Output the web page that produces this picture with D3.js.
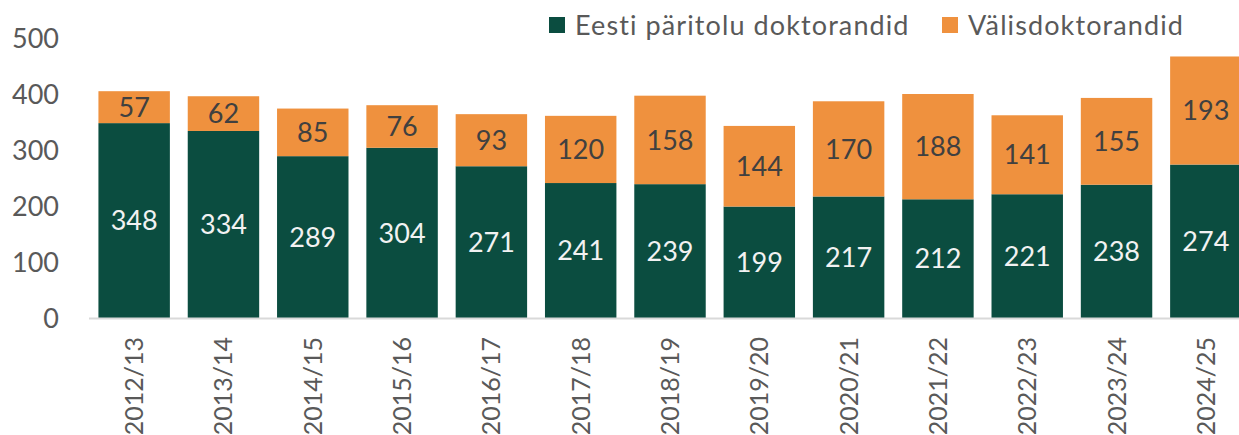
<!DOCTYPE html>
<html lang="et">
  <head>
    <meta charset="utf-8">
    <title>Doktorandid</title>
    <script src="https://cdnjs.cloudflare.com/ajax/libs/d3/7.8.0/d3.min.js"></script>
    <style>
      body { margin: 0; background: #fff; }
      text { font-family: Lato, "Open Sans", sans-serif; font-variant-ligatures: none; }
    </style>
  </head>
  <body>
    <div id="chart"></div>
    <script>
      // data
      var years = ["2012/13", "2013/14", "2014/15", "2015/16", "2016/17", "2017/18", "2018/19",
                   "2019/20", "2020/21", "2021/22", "2022/23", "2023/24", "2024/25"];
      var estonian = [348, 334, 289, 304, 271, 241, 239, 199, 217, 212, 221, 238, 274];
      var foreign = [57, 62, 85, 76, 93, 120, 158, 144, 170, 188, 141, 155, 193];
      var seriesNames = ["Eesti päritolu doktorandid", "Välisdoktorandid"];
      var yTicks = [0, 100, 200, 300, 400, 500];

      var W = 1239, H = 435;
      var green = "#0b4d40", orange = "#ef913e";

      var svg = d3.select("#chart").append("svg")
          .attr("width", W).attr("height", H);

      var x = d3.scaleBand().domain(years).range([89.5, 1250.5])
          .paddingInner(0.2).paddingOuter(0.1);
      var y = d3.scaleLinear().domain([0, 500]).range([318, 38]);

      var rows = years.map(function(yr, i) {
        return { year: yr, est: estonian[i], vl: foreign[i] };
      });

      // y axis labels
      svg.append("g").selectAll("text").data(yTicks).enter().append("text")
          .attr("x", 59).attr("y", function(d) { return y(d); })
          .attr("dy", "0.36em").attr("text-anchor", "end")
          .attr("font-size", 27).attr("fill", "#595959")
          .text(function(d) { return d; });

      // bars
      var g = svg.append("g").selectAll("g").data(rows).enter().append("g");
      g.append("rect")
          .attr("x", function(d) { return x(d.year); })
          .attr("width", x.bandwidth())
          .attr("y", function(d) { return y(d.est); })
          .attr("height", function(d) { return y(0) - y(d.est); })
          .attr("fill", green);
      g.append("rect")
          .attr("x", function(d) { return x(d.year); })
          .attr("width", x.bandwidth())
          .attr("y", function(d) { return y(d.est + d.vl); })
          .attr("height", function(d) { return y(d.est) - y(d.est + d.vl); })
          .attr("fill", orange);

      // value labels
      g.append("text")
          .attr("x", function(d) { return x(d.year) + x.bandwidth() / 2; })
          .attr("y", function(d) { return y(d.est / 2); })
          .attr("dy", "0.36em").attr("text-anchor", "middle")
          .attr("font-size", 27).attr("fill", "#f2f2f2")
          .text(function(d) { return d.est; });
      g.append("text")
          .attr("x", function(d) { return x(d.year) + x.bandwidth() / 2; })
          .attr("y", function(d) { return y(d.est + d.vl / 2); })
          .attr("dy", "0.36em").attr("text-anchor", "middle")
          .attr("font-size", 27).attr("fill", "#404040")
          .text(function(d) { return d.vl; });

      // baseline
      svg.append("line").attr("x1", 89).attr("x2", W)
          .attr("y1", y(0) + 0.5).attr("y2", y(0) + 0.5)
          .attr("stroke", "#d9d9d9").attr("stroke-width", 2);

      // x labels
      svg.append("g").selectAll("text").data(years).enter().append("text")
          .attr("transform", function(d) {
            return "translate(" + (x(d) + x.bandwidth() / 2) + ",337) rotate(-90)";
          })
          .attr("dy", "0.36em").attr("text-anchor", "end")
          .attr("font-size", 25).attr("fill", "#595959")
          .text(function(d) { return d; });

      // legend
      var legend = [{ name: seriesNames[0], color: green, x: 549 },
                    { name: seriesNames[1], color: orange, x: 942 }];
      var lg = svg.append("g").selectAll("g").data(legend).enter().append("g");
      lg.append("rect").attr("x", function(d) { return d.x; }).attr("y", 17)
          .attr("width", 16).attr("height", 16)
          .attr("fill", function(d) { return d.color; });
      lg.append("text").attr("x", function(d) { return d.x + 26; }).attr("y", 25)
          .attr("dy", "0.36em").attr("font-size", 27).attr("fill", "#595959")
          .attr("letter-spacing", 1.1)
          .text(function(d) { return d.name; });
    </script>
  </body>
</html>
